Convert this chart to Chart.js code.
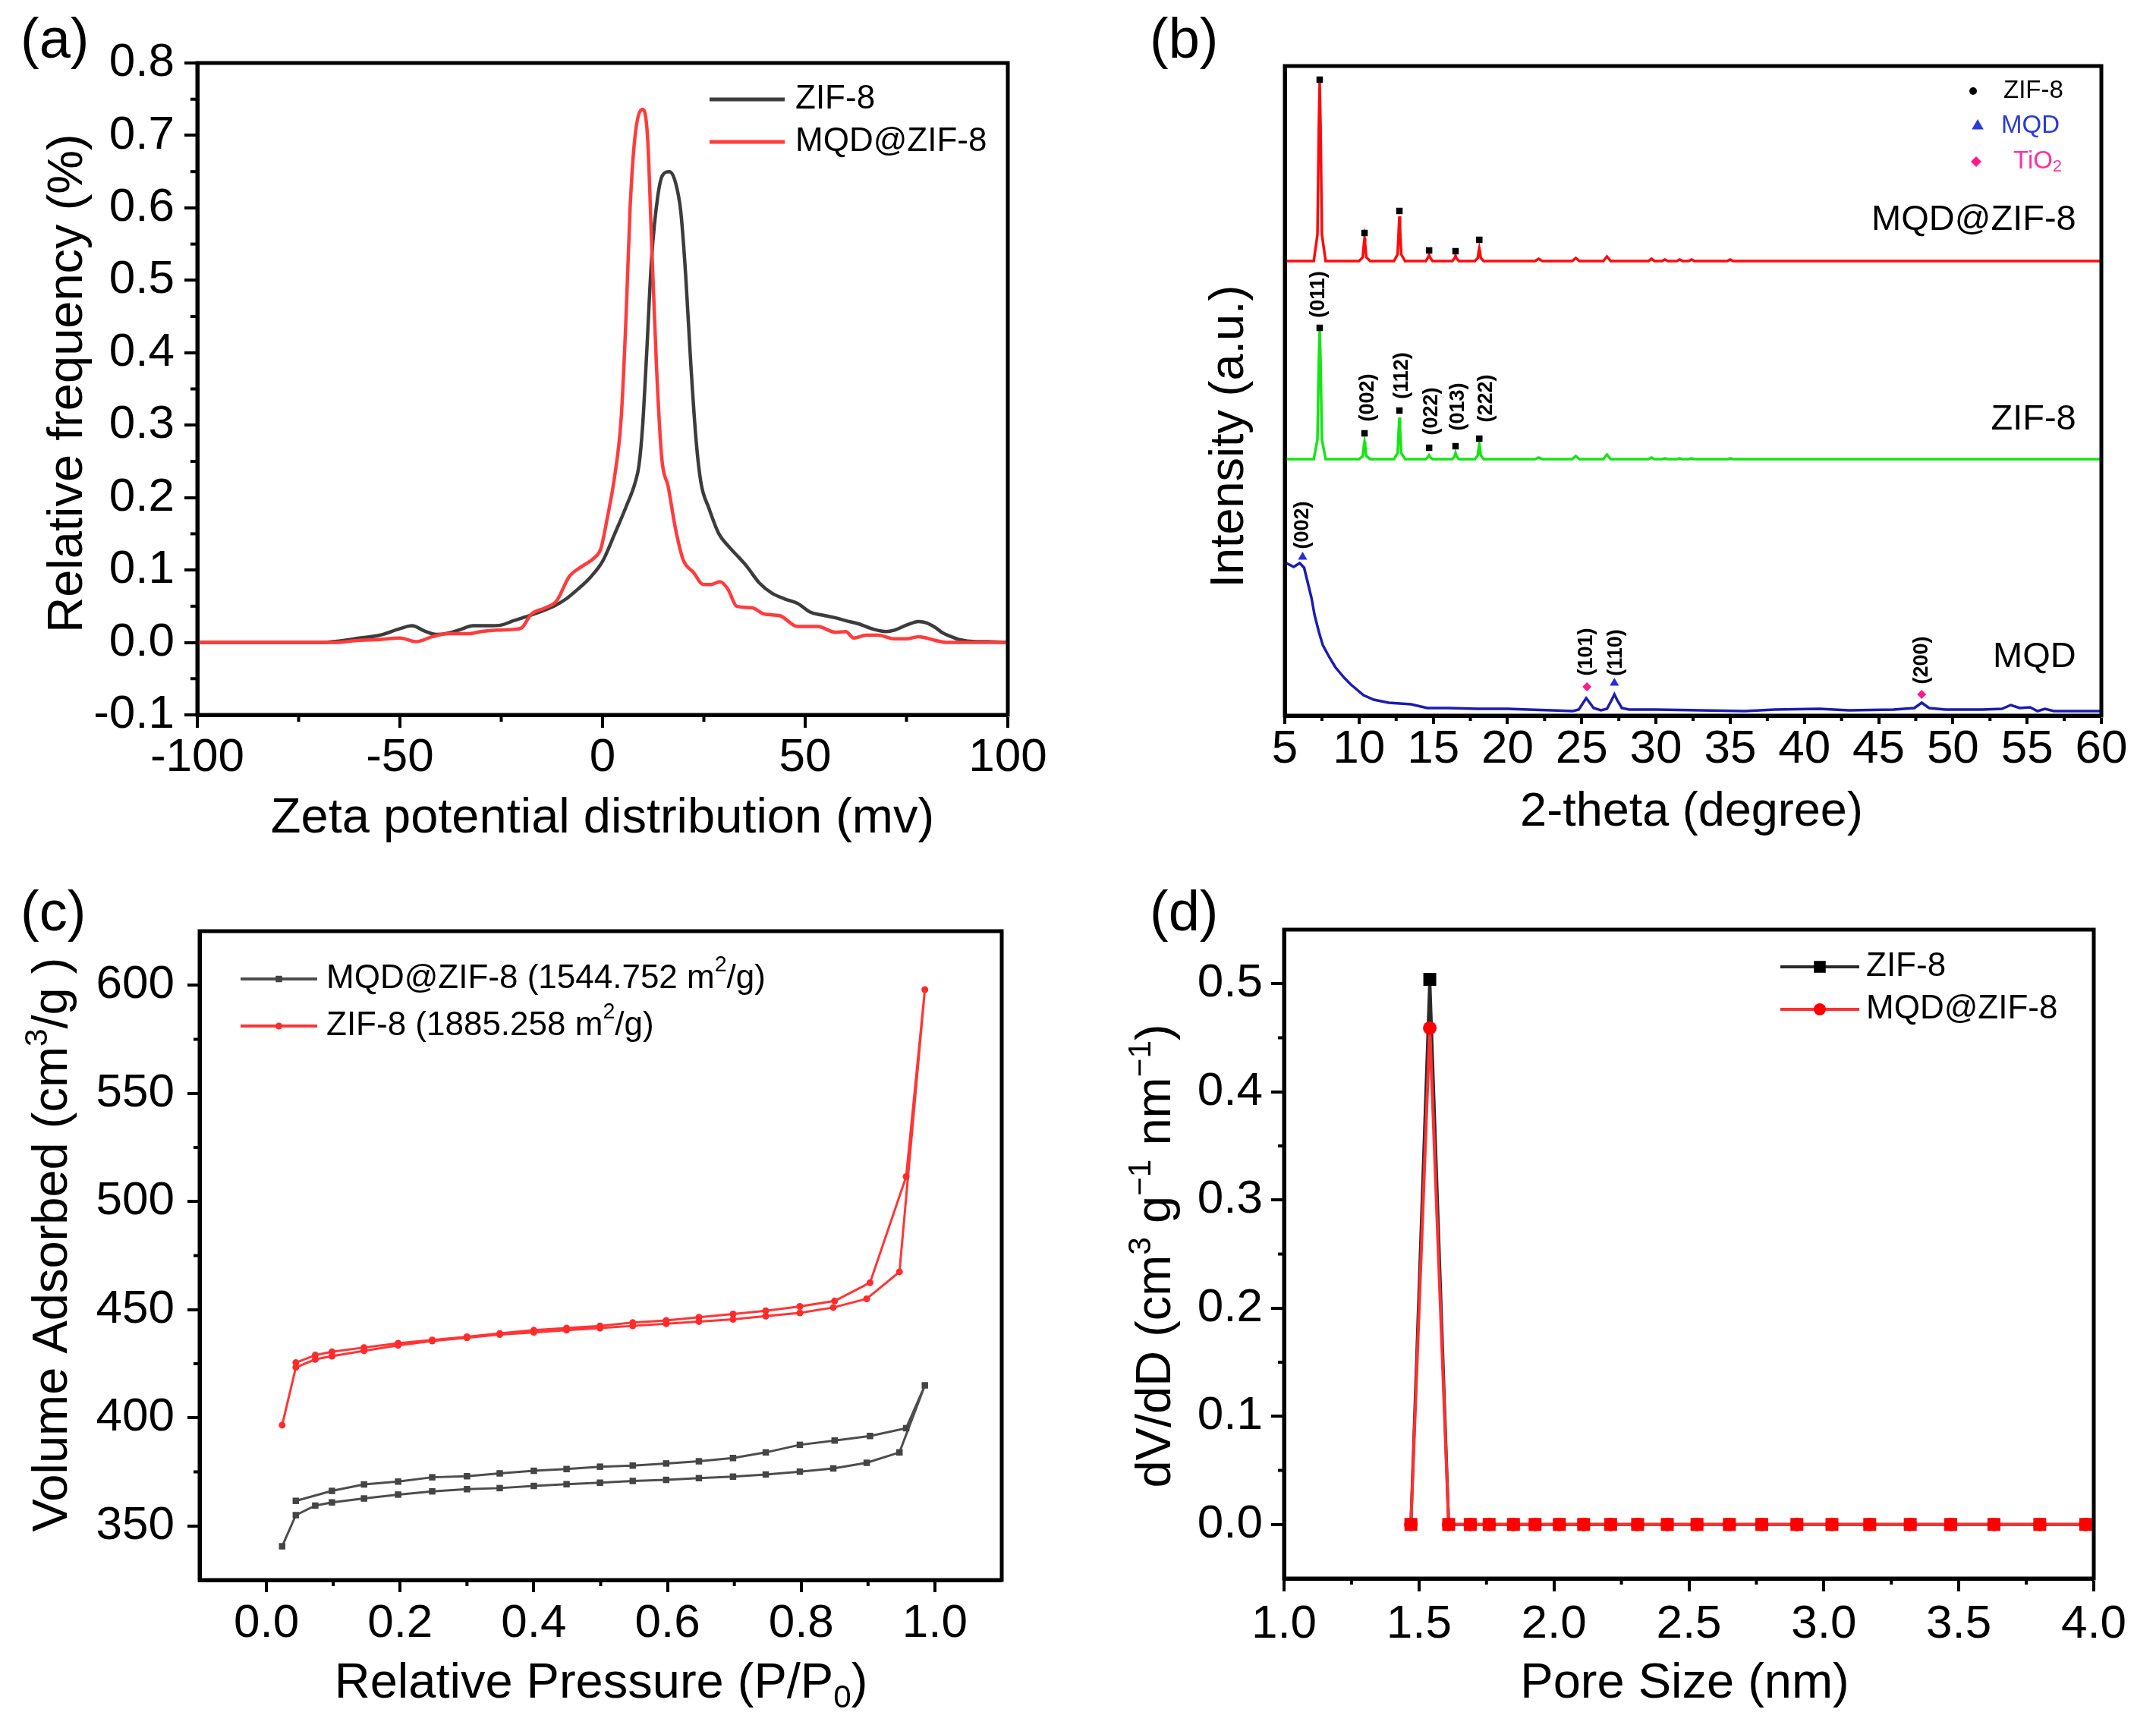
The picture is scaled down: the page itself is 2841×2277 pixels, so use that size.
<!DOCTYPE html>
<html><head><meta charset="utf-8">
<script src="https://cdn.jsdelivr.net/npm/chart.js@4.4.0/dist/chart.umd.min.js"></script>
<style>
html,body{margin:0;padding:0;background:#fff;width:2841px;height:2277px;overflow:hidden}
canvas{position:absolute;display:block}
</style></head><body>
<canvas id="ca" width="1420" height="1140" style="left:0;top:0"></canvas>
<canvas id="cb" width="1421" height="1140" style="left:1420px;top:0"></canvas>
<canvas id="cc" width="1420" height="1137" style="left:0;top:1140px"></canvas>
<canvas id="cd" width="1421" height="1137" style="left:1420px;top:1140px"></canvas>
<script>
// ================= DATA =================
// (a) Zeta potential distribution
const zetaZifX = [-100,-70,-65,-60,-55,-50,-47,-44,-41,-38,-35,-32,-28,-25,-22,-18,-15,-12,-9,-6,-3,0,3,6,8,9,9.9,10.8,12.1,13.6,14.8,16.5,18,19.3,20.5,21.8,23.1,24.3,26.2,28.7,31.2,33.7,35.6,38.7,41.8,45,48.1,51.2,54,57.5,60,63,67,70,72,75,78,80,82,84,86,88,90,95,100];
const zetaZifY = [0,0,0.002,0.006,0.01,0.019,0.023,0.016,0.011,0.013,0.018,0.023,0.023,0.024,0.03,0.037,0.043,0.05,0.06,0.074,0.09,0.112,0.15,0.19,0.22,0.245,0.3,0.39,0.53,0.615,0.645,0.65,0.635,0.595,0.508,0.382,0.278,0.22,0.186,0.15,0.132,0.117,0.105,0.082,0.068,0.06,0.054,0.042,0.038,0.034,0.03,0.026,0.018,0.015,0.017,0.024,0.029,0.027,0.021,0.013,0.008,0.004,0.002,0.001,0];
const zetaMqdX = [-100,-66,-60,-55,-50,-46,-42,-38,-33,-30,-26,-22,-20,-17.6,-14.5,-11.4,-8.2,-5.1,-2,-0.4,1.1,3,4.6,5.8,6.8,8,9.9,11.1,12.1,13.3,14.6,16.2,18,19.9,22.4,24.9,26.8,29,30.9,33.1,36.8,40,43.7,48.1,53.1,57.5,60,62,65,68,72,75,78,82,85,100];
const zetaMqdY = [0,0,0.003,0.004,0.006,0.001,0.008,0.012,0.012,0.015,0.017,0.018,0.02,0.039,0.047,0.057,0.091,0.105,0.117,0.13,0.17,0.23,0.31,0.45,0.6,0.698,0.736,0.698,0.554,0.382,0.255,0.215,0.157,0.114,0.097,0.08,0.08,0.084,0.074,0.05,0.048,0.039,0.037,0.022,0.022,0.014,0.015,0.006,0.01,0.01,0.005,0.005,0.008,0.003,0,0];
const zetaXTicks = [-100,-50,0,50,100];
const zetaXMinor = [-75,-25,25,75];
const zetaYTicks = [-0.1,0,0.1,0.2,0.3,0.4,0.5,0.6,0.7,0.8];
const zetaYMinor = [-0.05,0.05,0.15,0.25,0.35,0.45,0.55,0.65,0.75];

// (b) XRD patterns (intensity in arbitrary units)
const xrdRedX = [5,6.95,7.2,7.29,7.35,7.41,7.5,7.75,10.0,10.25,10.33,10.37,10.41,10.49,10.75,12.35,12.6,12.68,12.72,12.76,12.84,13.1,14.5,14.66,14.72,14.78,14.95,16.28,16.44,16.5,16.56,16.72,17.8,18.0,18.06,18.1,18.14,18.2,18.4,21.85,22.1,22.35,24.35,24.6,24.85,26.45,26.7,26.95,29.5,29.7,29.9,30.4,30.6,30.8,31.4,31.6,31.8,32.2,32.4,32.6,34.8,35.0,35.2,60];
const xrdRedY = [599,599,634,775,834,775,634,599,599,604,622,629,622,604,599,599,608,643,658,643,608,599,599,604,607,604,599,599,603,606,603,599,599,603,612,616,612,603,599,599,602,599,599,603,599,599,605,599,599,602,599,599,601,599,599,601,599,599,601,599,599,601,599,599];
const xrdGreenX = [5,6.95,7.2,7.29,7.35,7.41,7.5,7.75,10.0,10.25,10.33,10.37,10.41,10.49,10.75,12.35,12.6,12.68,12.72,12.76,12.84,13.1,14.5,14.66,14.72,14.78,14.95,16.28,16.44,16.5,16.56,16.72,17.8,18.0,18.06,18.1,18.14,18.2,18.4,21.85,22.1,22.35,24.35,24.6,24.85,26.45,26.7,26.95,29.5,29.7,29.9,30.4,30.6,30.8,31.4,31.6,31.8,32.2,32.4,32.6,34.8,35.0,35.2,60];
const xrdGreenY = [338,338,364,466,508,466,364,338,338,342,356,361,356,342,338,338,346,379,393,379,346,338,338,341,343,341,338,338,342,346,342,338,338,343,353,358,353,343,338,338,340,338,338,342,338,338,344,338,338,340,338,338,339,338,338,339,338,338,339,338,338,339,338,338];
const xrdBlueX = [5,5.3,5.6,6.0,6.3,6.5,6.8,7.0,7.3,7.56,8.0,8.4,9.0,9.45,10.3,11,12,13.5,14.6,16,18,20,21.4,23,24.4,24.8,25.1,25.3,25.5,25.8,26.3,26.7,27.0,27.2,27.4,27.7,28.2,30,33,36,38,41,43,46,47.4,47.9,48.4,49.5,52,53.3,53.9,54.5,55.2,55.7,56.2,56.8,60];
const xrdBlueY = [202,199,196,201,195,179,155,133,110,93,77,64,50,41,27,21,17,15,10,10,9,9,8,7,6,8,17,23,18,10,7,9,20,28,20,10,8,8,7,6,8,9,7,8,10,17,10,8,8,9,14,10,11,6,9,6,6];
const zifMarkRedX = [7.35,10.37,12.72,14.72,16.5,18.1];
const zifMarkRedY = [838,636,665,613,612,627];
const zifMarkGreenX = [7.35,10.37,12.72,14.72,16.5,18.1];
const zifMarkGreenY = [511,372,402,353,355,365];
const mqdMarkX = [6.2,27.2];
const mqdMarkY = [209,43];
const tioMarkX = [25.35,47.9];
const tioMarkY = [38,28];
const hklText = ['(011)','(002)','(112)','(022)','(013)','(222)','(002)','(101)','(110)','(200)'];
const hklX = [7.3,10.6,12.9,14.9,16.7,18.55,6.2,25.3,27.3,47.9];
const hklY = [555,419,448,401,407,418,251,84,83,73];
const xrdNames = ['MQD@ZIF-8','ZIF-8','MQD'];
const xrdNameY = [653,390,77];
const xrdXTicks = [5,10,15,20,25,30,35,40,45,50,55,60];
const xrdXMinor = [7.5,12.5,17.5,22.5,27.5,32.5,37.5,42.5,47.5,52.5,57.5];

// (c) N2 isotherms
const betAdsX = [0.0235,0.044,0.073,0.098,0.146,0.197,0.248,0.3,0.349,0.4,0.449,0.499,0.548,0.598,0.647,0.698,0.747,0.798,0.848,0.898,0.947,0.985];
const betMqdAdsY = [340.6,355,359.4,360.9,362.7,364.5,366,367,367.5,368.5,369.3,370,370.8,371.3,372.1,372.8,373.8,375.1,376.6,379.2,384,415];
const betMqdDesX = [0.957,0.903,0.85,0.798,0.747,0.698,0.647,0.598,0.548,0.499,0.449,0.4,0.349,0.3,0.248,0.197,0.146,0.098,0.044];
const betMqdDesY = [395.2,391.6,389.5,387.5,384,381.4,379.9,378.9,377.9,377.4,376.3,375.5,374.3,373,372.5,370.5,369.2,366.2,361.6];
const betZifAdsY = [396.6,423.3,427,428.5,431,433.5,435.5,437,438.5,439.5,440.5,441.5,442.5,443.5,444.5,445.5,447,448.5,451,455,467.5,598];
const betZifDesX = [0.957,0.903,0.85,0.798,0.747,0.698,0.647,0.598,0.548,0.499,0.449,0.4,0.349,0.3,0.248,0.197,0.146,0.098,0.073,0.044];
const betZifDesY = [511.5,462.5,454,451.5,449.5,448,446.5,445,444,442.5,441.5,440.5,439,437.5,436,434.5,432.5,430.5,429,425.5];
const betXTicks = [0,0.2,0.4,0.6,0.8,1.0];
const betXMinor = [0.1,0.3,0.5,0.7,0.9];
const betYTicks = [350,400,450,500,550,600];
const betYMinor = [375,425,475,525,575];

// (d) Pore size distribution
const poreX = [1.47,1.54,1.61,1.69,1.76,1.85,1.93,2.02,2.11,2.21,2.31,2.42,2.53,2.65,2.77,2.90,3.03,3.17,3.32,3.47,3.63,3.80,3.97];
const poreZif = [0,0.504,0,0,0,0,0,0,0,0,0,0,0,0,0,0,0,0,0,0,0,0,0];
const poreMqd = [0,0.459,0,0,0,0,0,0,0,0,0,0,0,0,0,0,0,0,0,0,0,0,0];
const poreXTicks = [1.0,1.5,2.0,2.5,3.0,3.5,4.0];
const poreXMinor = [1.25,1.75,2.25,2.75,3.25,3.75];
const poreYTicks = [0,0.1,0.2,0.3,0.4,0.5];
const poreYMinor = [0.05,0.15,0.25,0.35,0.45];

// ================= HELPERS =================
const FF = "'Liberation Sans', Arial, Helvetica, sans-serif";
Chart.defaults.font.family = FF;
Chart.defaults.color = '#000';
const pts = (xs, ys) => xs.map((x, i) => ({x: x, y: ys[i]}));
const f1 = v => v.toFixed(1);
const f0 = v => String(Math.round(v));

function axis(pos, min, max, ticks, fmt, size, tl, pad, fs, show) {
  return {
    type: 'linear', position: pos, min: min, max: max,
    afterBuildTicks: s => { s.ticks = ticks.map(v => ({value: v})); },
    afterFit: s => {
      if (pos === 'left') s.width = size; else s.height = size;
      s.paddingLeft = 0; s.paddingRight = 0; s.paddingTop = 0; s.paddingBottom = 0;
    },
    ticks: {display: show !== false, autoSkip: false, maxRotation: 0, minRotation: 0, padding: pad,
      color: '#000', font: {size: fs, lineHeight: 1}, callback: v => fmt(v)},
    grid: {display: true, drawOnChartArea: false, drawTicks: tl > 0, tickLength: tl, tickWidth: 4, tickColor: '#000', lineWidth: 0},
    border: {display: true, color: '#000', width: 5}
  };
}

function rich(ctx, segs, x, y, size, o) {
  o = o || {};
  const parts = segs.map(s => {
    const fs = s[1] ? size * 0.65 : size;
    ctx.font = (o.bold ? 'bold ' : '') + fs + 'px ' + FF;
    return {t: s[0], fs: fs, w: ctx.measureText(s[0]).width, dy: s[1] === 'sup' ? -size * 0.4 : (s[1] === 'sub' ? size * 0.2 : 0)};
  });
  const total = parts.reduce((a, p) => a + p.w, 0);
  ctx.save();
  ctx.translate(x, y);
  if (o.rot) ctx.rotate(o.rot);
  let cx = o.align === 'center' ? -total / 2 : (o.align === 'right' ? -total : 0);
  ctx.textAlign = 'left';
  ctx.textBaseline = o.baseline || 'alphabetic';
  ctx.fillStyle = o.color || '#000';
  for (const p of parts) {
    ctx.font = (o.bold ? 'bold ' : '') + p.fs + 'px ' + FF;
    ctx.fillText(p.t, cx, p.dy);
    cx += p.w;
  }
  ctx.restore();
}

function marker(ctx, style, x, y, r, color) {
  ctx.save();
  ctx.fillStyle = color;
  ctx.beginPath();
  if (style === 'rect') { const h = r * Math.SQRT1_2; ctx.rect(x - h, y - h, 2 * h, 2 * h); }
  else if (style === 'circle') { ctx.arc(x, y, r, 0, Math.PI * 2); }
  else if (style === 'triangle') { ctx.moveTo(x, y - r); ctx.lineTo(x + r * 0.87, y + r * 0.5); ctx.lineTo(x - r * 0.87, y + r * 0.5); ctx.closePath(); }
  else if (style === 'rectRot') { ctx.moveTo(x, y - r); ctx.lineTo(x + r, y); ctx.lineTo(x, y + r); ctx.lineTo(x - r, y); ctx.closePath(); }
  ctx.fill();
  ctx.restore();
}

function panel(p) {
  return {
    id: 'panel' + p.id,
    afterDraw(chart) {
      const ctx = chart.ctx, a = chart.chartArea;
      ctx.save();
      ctx.strokeStyle = '#000'; ctx.lineWidth = 4;
      const xs = chart.scales.x, ys = chart.scales.y;
      (p.minorX || []).forEach(v => {
        const px = xs.getPixelForValue(v);
        ctx.beginPath(); ctx.moveTo(px, a.bottom); ctx.lineTo(px, a.bottom + p.minorLen); ctx.stroke();
      });
      (p.minorY || []).forEach(v => {
        const py = ys.getPixelForValue(v);
        ctx.beginPath(); ctx.moveTo(a.left, py); ctx.lineTo(a.left - p.minorLen, py); ctx.stroke();
      });
      ctx.lineWidth = 5; ctx.strokeStyle = '#000';
      ctx.strokeRect(a.left, a.top, a.right - a.left, a.bottom - a.top);
      ctx.fillStyle = '#000'; ctx.font = '74px ' + FF; ctx.textBaseline = 'alphabetic'; ctx.textAlign = 'left';
      ctx.fillText(p.label, p.labelPos[0], p.labelPos[1]);
      rich(ctx, p.xTitle, p.xTitlePos[0], p.xTitlePos[1], p.titleSize, {align: 'center'});
      rich(ctx, p.yTitle, p.yTitlePos[0], p.yTitlePos[1], p.titleSize, {align: 'center', rot: -Math.PI / 2});
      if (p.extra) p.extra(ctx, chart);
      ctx.restore();
    }
  };
}

function lineLegend(ctx, items, x1, x2, tx, fs) {
  items.forEach(it => {
    ctx.save();
    ctx.strokeStyle = it.color; ctx.lineWidth = it.lw;
    ctx.beginPath(); ctx.moveTo(x1, it.y); ctx.lineTo(x2, it.y); ctx.stroke();
    ctx.restore();
    if (it.marker) marker(ctx, it.marker, (x1 + x2) / 2, it.y, it.mr, it.mcolor);
    rich(ctx, it.text, tx, it.y, fs, {baseline: 'middle'});
  });
}

const baseOpts = (pad, scales) => ({
  responsive: false, animation: false, events: [],
  layout: {padding: pad},
  plugins: {legend: {display: false}, tooltip: {enabled: false}},
  scales: scales
});

// ================= (a) =================
new Chart(document.getElementById('ca'), {
  type: 'line',
  data: {datasets: [
    {label: 'MQD@ZIF-8', data: pts(zetaMqdX, zetaMqdY), borderColor: '#ff3c3c', borderWidth: 4.5, pointRadius: 0, cubicInterpolationMode: 'monotone'},
    {label: 'ZIF-8', data: pts(zetaZifX, zetaZifY), borderColor: '#3c3c3c', borderWidth: 4.5, pointRadius: 0, cubicInterpolationMode: 'monotone'}
  ]},
  options: baseOpts({left: 0, top: 83, right: 92, bottom: 0}, {
    x: axis('bottom', -100, 100, zetaXTicks, f0, 198, 17, 9, 62),
    y: axis('left', -0.1, 0.8, zetaYTicks, f1, 260, 17, 13, 62)
  }),
  plugins: [panel({
    id: 'a', label: '(a)', labelPos: [27, 76], minorX: zetaXMinor, minorY: zetaYMinor, minorLen: 9,
    titleSize: 65,
    xTitle: [['Zeta potential distribution (mv)']], xTitlePos: [794, 1097],
    yTitle: [['Relative frequency (%)']], yTitlePos: [108, 505],
    extra: (ctx) => lineLegend(ctx, [
      {y: 131, color: '#3c3c3c', lw: 5, text: [['ZIF-8']]},
      {y: 187, color: '#ff3c3c', lw: 5, text: [['MQD@ZIF-8']]}
    ], 935, 1034, 1048, 44)
  })]
});

// ================= (b) =================
new Chart(document.getElementById('cb'), {
  type: 'line',
  data: {datasets: [
    {label: 'zifR', data: pts(zifMarkRedX, zifMarkRedY), showLine: false, pointStyle: 'rect', pointRadius: 6, pointBackgroundColor: '#000', pointBorderWidth: 0},
    {label: 'zifG', data: pts(zifMarkGreenX, zifMarkGreenY), showLine: false, pointStyle: 'rect', pointRadius: 6, pointBackgroundColor: '#000', pointBorderWidth: 0},
    {label: 'mqd', data: pts(mqdMarkX, mqdMarkY), showLine: false, pointStyle: 'triangle', pointRadius: 7, pointBackgroundColor: '#2b2bd8', pointBorderWidth: 0},
    {label: 'tio', data: pts(tioMarkX, tioMarkY), showLine: false, pointStyle: 'rectRot', pointRadius: 6, pointBackgroundColor: '#ff1a8c', pointBorderWidth: 0},
    {label: 'MQD@ZIF-8', data: pts(xrdRedX, xrdRedY), borderColor: '#ff0a0a', borderWidth: 3.5, pointRadius: 0, tension: 0},
    {label: 'ZIF-8', data: pts(xrdGreenX, xrdGreenY), borderColor: '#14e614', borderWidth: 3.5, pointRadius: 0, tension: 0},
    {label: 'MQD', data: pts(xrdBlueX, xrdBlueY), borderColor: '#1c1cb0', borderWidth: 3.5, pointRadius: 0, tension: 0}
  ]},
  options: baseOpts({left: 0, top: 87, right: 72, bottom: 0}, {
    x: axis('bottom', 5, 60, xrdXTicks, f0, 197, 11, 3, 62),
    y: axis('left', 0, 856, [], f0, 273, 0, 0, 62, false)
  }),
  plugins: [panel({
    id: 'b', label: '(b)', labelPos: [95, 76], minorX: xrdXMinor, minorLen: 7,
    titleSize: 63,
    xTitle: [['2-theta (degree)']], xTitlePos: [809, 1088],
    yTitle: [['Intensity (a.u.)']], yTitlePos: [218, 575],
    extra: (ctx, chart) => {
      const xs = chart.scales.x, ys = chart.scales.y;
      hklText.forEach((t, i) => {
        rich(ctx, [[t]], xs.getPixelForValue(hklX[i]), ys.getPixelForValue(hklY[i]), 27,
          {align: 'center', rot: -Math.PI / 2, baseline: 'middle', bold: true});
      });
      xrdNames.forEach((t, i) => {
        rich(ctx, [[t]], xs.getPixelForValue(58.3), ys.getPixelForValue(xrdNameY[i]), 47, {align: 'right', baseline: 'middle'});
      });
      marker(ctx, 'circle', 1180, 120, 5, '#000');
      rich(ctx, [['ZIF-8']], 1220, 120, 33, {baseline: 'middle'});
      marker(ctx, 'triangle', 1186, 166, 9, '#2b3bd6');
      rich(ctx, [['MQD']], 1217, 166, 33, {baseline: 'middle', color: '#2b3bd6'});
      marker(ctx, 'rectRot', 1184, 213, 7, '#ff1a8c');
      rich(ctx, [['TiO'], ['2', 'sub']], 1233, 213, 33, {baseline: 'middle', color: '#ff3399'});
    }
  })]
});

// ================= (c) =================
new Chart(document.getElementById('cc'), {
  type: 'line',
  data: {datasets: [
    {label: 'ZIF-8 (1885.258 m2/g)', data: pts(betAdsX, betZifAdsY).concat(pts(betZifDesX, betZifDesY)), borderColor: '#ff3535', borderWidth: 3, pointStyle: 'circle', pointRadius: 4.5, pointBackgroundColor: '#ff2a2a', pointBorderWidth: 0, tension: 0},
    {label: 'MQD@ZIF-8 (1544.752 m2/g)', data: pts(betAdsX, betMqdAdsY).concat(pts(betMqdDesX, betMqdDesY)), borderColor: '#4d4d4d', borderWidth: 3, pointStyle: 'rect', pointRadius: 6, pointBackgroundColor: '#444', pointBorderWidth: 0, tension: 0}
  ]},
  options: baseOpts({left: 0, top: 87, right: 100, bottom: 0}, {
    x: axis('bottom', -0.1, 1.1, betXTicks, f1, 195, 16, 11, 62),
    y: axis('left', 325, 625, betYTicks, f0, 263, 16, 17, 62)
  }),
  plugins: [panel({
    id: 'c', label: '(c)', labelPos: [27, 86], minorX: betXMinor, minorY: betYMinor, minorLen: 8,
    titleSize: 65,
    xTitle: [['Relative Pressure (P/P'], ['0', 'sub'], [')']], xTitlePos: [792, 1097],
    yTitle: [['Volume Adsorbed (cm'], ['3', 'sup'], ['/g )']], yTitlePos: [88, 500],
    extra: (ctx) => lineLegend(ctx, [
      {y: 150, color: '#4d4d4d', lw: 4, marker: 'rect', mr: 6, mcolor: '#444', text: [['MQD@ZIF-8 (1544.752 m'], ['2', 'sup'], ['/g)']]},
      {y: 212, color: '#ff3535', lw: 4, marker: 'circle', mr: 4.5, mcolor: '#ff2a2a', text: [['ZIF-8 (1885.258 m'], ['2', 'sup'], ['/g)']]}
    ], 317, 418, 430, 44)
  })]
});

// ================= (d) =================
new Chart(document.getElementById('cd'), {
  type: 'line',
  data: {datasets: [
    {label: 'MQD@ZIF-8', data: pts(poreX, poreMqd), borderColor: '#ff3030', borderWidth: 4, pointStyle: 'circle', pointRadius: 9, pointBackgroundColor: '#ff0000', pointBorderWidth: 0, tension: 0},
    {label: 'ZIF-8', data: pts(poreX, poreZif), borderColor: '#2a2a2a', borderWidth: 4, pointStyle: 'rect', pointRadius: 12,
      pointBackgroundColor: c => (c.raw && c.raw.y > 0) ? '#000' : '#ff0000', pointBorderWidth: 0, tension: 0}
  ]},
  options: baseOpts({left: 0, top: 85, right: 82, bottom: 0}, {
    x: axis('bottom', 1.0, 4.0, poreXTicks, f1, 197, 17, 13, 62),
    y: axis('left', -0.05, 0.55, poreYTicks, f1, 272, 17, 11, 62)
  }),
  plugins: [panel({
    id: 'd', label: '(d)', labelPos: [95, 86], minorX: poreXMinor, minorY: poreYMinor, minorLen: 8,
    titleSize: 65,
    xTitle: [['Pore Size (nm)']], xTitlePos: [800, 1097],
    yTitle: [['dV/dD (cm'], ['3', 'sup'], [' g'], ['\u22121', 'sup'], [' nm'], ['\u22121', 'sup'], [')']], yTitlePos: [122, 515],
    extra: (ctx) => lineLegend(ctx, [
      {y: 134, color: '#2a2a2a', lw: 4, marker: 'rect', mr: 11, mcolor: '#000', text: [['ZIF-8']]},
      {y: 190, color: '#ff3030', lw: 4, marker: 'circle', mr: 8, mcolor: '#ff0000', text: [['MQD@ZIF-8']]}
    ], 926, 1030, 1039, 44)
  })]
});
</script>
</body></html>
